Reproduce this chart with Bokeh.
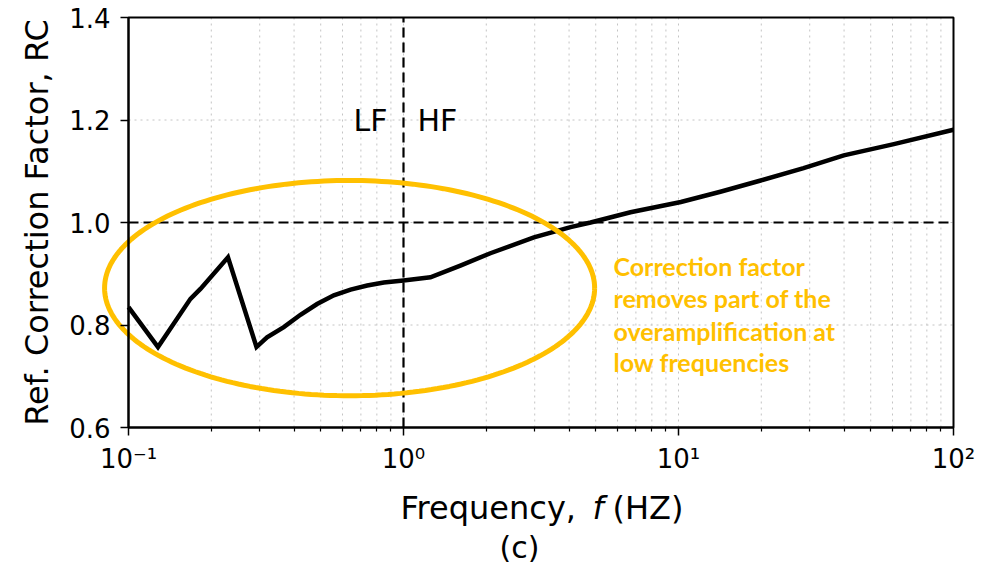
import numpy as np
from bokeh.plotting import figure
from bokeh.models import Label, BoxAnnotation, CustomJSTickFormatter, FixedTicker
from bokeh.embed import file_html
from bokeh.resources import INLINE

# ---- data ----
freq = [0.1, 0.128, 0.168, 0.183, 0.230, 0.292, 0.319, 0.367, 0.422, 0.485, 0.558, 0.642,
        0.738, 0.848, 1.0, 1.253, 1.61, 2.07, 2.98, 4.05, 4.79, 6.69, 10.2, 14.2, 19.9,
        28.5, 39.9, 60.7, 100.0]
rc = [0.835, 0.757, 0.851, 0.871, 0.932, 0.757, 0.776, 0.796, 0.820, 0.841, 0.858, 0.869,
      0.877, 0.883, 0.887, 0.893, 0.916, 0.940, 0.971, 0.991, 1.000, 1.020, 1.040, 1.060, 1.082,
      1.106, 1.131, 1.153, 1.181]
x_major_ticks = [0.1, 1.0, 10.0, 100.0]
x_minor_ticks = [m * d for d in (0.1, 1.0, 10.0) for m in range(2, 10)]
y_ticks = [0.6, 0.8, 1.0, 1.2, 1.4]
x_lim = (0.1, 100.0)
y_lim = (0.6, 1.4)
lf_hf_boundary = 1.0
reference_rc = 1.0
note_lines = ["Correction factor", "removes part of the", "overamplification at", "low frequencies"]
note_y = [0.916, 0.852, 0.789, 0.727]

# highlight ellipse (annotation): centre in data, half-axes in decades / RC units
ell_logx_c, ell_y_c = -0.196, 0.872
ell_half_dec, ell_half_y = 0.891, 0.210

GOLD = "#FFC000"
GRID = "#c4c4c4"
FONT = "DejaVu Sans"

# ---- layout: plot box 128..953 px wide, 17..427 px high inside a 997x570 canvas ----
W, H = 997, 570
L, R, T, B = 128, 953, 17, 427
dec_px = (R - L) / 3.0
ypp = (y_lim[1] - y_lim[0]) / (B - T)
x_range = (10 ** (-1 - L / dec_px), 10 ** (2 + (W - R) / dec_px))
y_range = (y_lim[0] - (H - B) * ypp, y_lim[1] + T * ypp)

p = figure(width=W, height=H, x_axis_type="log", x_range=x_range, y_range=y_range,
           output_backend="svg", toolbar_location=None, min_border=0)
p.background_fill_color = "white"
p.border_fill_color = "white"
p.outline_line_color = None
p.xgrid.visible = False
p.ygrid.visible = False

# axes drawn at the box edges
p.xaxis.fixed_location = y_lim[0]
p.xaxis.bounds = x_lim
p.yaxis.fixed_location = x_lim[0]
p.yaxis.bounds = y_lim
p.xaxis.ticker = FixedTicker(ticks=x_major_ticks, minor_ticks=x_minor_ticks)
p.yaxis.ticker = FixedTicker(ticks=y_ticks)
p.yaxis.formatter = CustomJSTickFormatter(code="return tick.toFixed(1);")
p.xaxis.formatter = CustomJSTickFormatter(code="""
const e = Math.round(Math.log10(tick));
const sup = {'-':'\u207b','0':'\u2070','1':'\u00b9','2':'\u00b2','3':'\u00b3'};
return '10' + String(e).split('').map(c => sup[c]).join('');
""")
for ax in (p.xaxis, p.yaxis):
    ax.axis_line_width = 2
    ax.axis_line_color = "black"
    ax.major_tick_line_width = 1.5
    ax.minor_tick_line_width = 1.2
    ax.major_tick_out = 8
    ax.major_tick_in = 0
    ax.minor_tick_out = 4
    ax.minor_tick_in = 0
    ax.major_label_text_font = FONT
    ax.major_label_text_font_size = "26px"
    ax.major_label_text_color = "black"
    ax.axis_label_text_font = FONT
    ax.axis_label_text_font_size = "32px"
    ax.axis_label_text_font_style = "normal"
    ax.axis_label_text_color = "black"
p.yaxis.minor_tick_line_color = None
p.yaxis.major_label_standoff = 10
p.yaxis.axis_label = "Ref. Correction Factor, RC"
p.yaxis.axis_label_standoff = 10
p.xaxis.major_label_standoff = 8

# dotted grid inside the box
gx = x_major_ticks + x_minor_ticks
p.segment(x0=gx, y0=[y_lim[0]] * len(gx), x1=gx, y1=[y_lim[1]] * len(gx),
          line_color=GRID, line_dash="2 4", line_width=1)
p.segment(x0=[x_lim[0]] * len(y_ticks), y0=y_ticks, x1=[x_lim[1]] * len(y_ticks), y1=y_ticks,
          line_color=GRID, line_dash="2 4", line_width=1)

# reference lines
p.segment(x0=[lf_hf_boundary], y0=[y_lim[0]], x1=[lf_hf_boundary], y1=[y_lim[1]],
          line_color="black", line_width=2.2, line_dash="10 5")
p.segment(x0=[x_lim[0]], y0=[reference_rc], x1=[x_lim[1]], y1=[reference_rc],
          line_color="black", line_width=2.2, line_dash="10 5")

# data curve
p.line(freq, rc, line_color="black", line_width=4.5, line_join="miter")

# highlight ellipse
t = np.linspace(0, 2 * np.pi, 241)
ell_x = 10 ** (ell_logx_c + ell_half_dec * np.cos(t))
ell_y = ell_y_c + ell_half_y * np.sin(t)
p.line(ell_x, ell_y, line_color=GOLD, line_width=5)

# box frame
p.add_layout(BoxAnnotation(left=x_lim[0], right=x_lim[1], bottom=y_lim[0], top=y_lim[1],
                           fill_color=None, fill_alpha=0, line_color="black",
                           line_alpha=1, line_width=2))

# LF / HF labels
p.add_layout(Label(x=lf_hf_boundary, y=1.2, text="LF", text_align="right", text_baseline="alphabetic",
                   x_offset=-16, text_font=FONT, text_font_size="30px", text_color="black"))
p.add_layout(Label(x=lf_hf_boundary, y=1.2, text="HF", text_align="left", text_baseline="alphabetic",
                   x_offset=14, text_font=FONT, text_font_size="30px", text_color="black"))

# note text
for txt, yy in zip(note_lines, note_y):
    p.add_layout(Label(x=5.8, y=yy, text=txt, text_align="left", text_baseline="alphabetic",
                       text_font="Lato", text_font_style="bold", text_font_size="25px",
                       text_color=GOLD))

# x axis label, built from pieces so that f is italic
lab_kw = dict(y=0.442, text_baseline="alphabetic", text_font=FONT,
              text_font_size="32px", text_color="black", text_align="left")
p.add_layout(Label(x=1.0, x_offset=-3, text="Frequency,", **lab_kw))
p.add_layout(Label(x=1.0, x_offset=189, text="f", text_font_style="italic", **lab_kw))
p.add_layout(Label(x=1.0, x_offset=209, text="(HZ)", **lab_kw))

# panel tag
p.add_layout(Label(x=1.0, y=0.366, x_offset=116, text="(c)", text_align="center",
                   text_baseline="middle", text_font=FONT, text_font_size="30px", text_color="black"))

open("out.html", "w").write(file_html(p, INLINE))
